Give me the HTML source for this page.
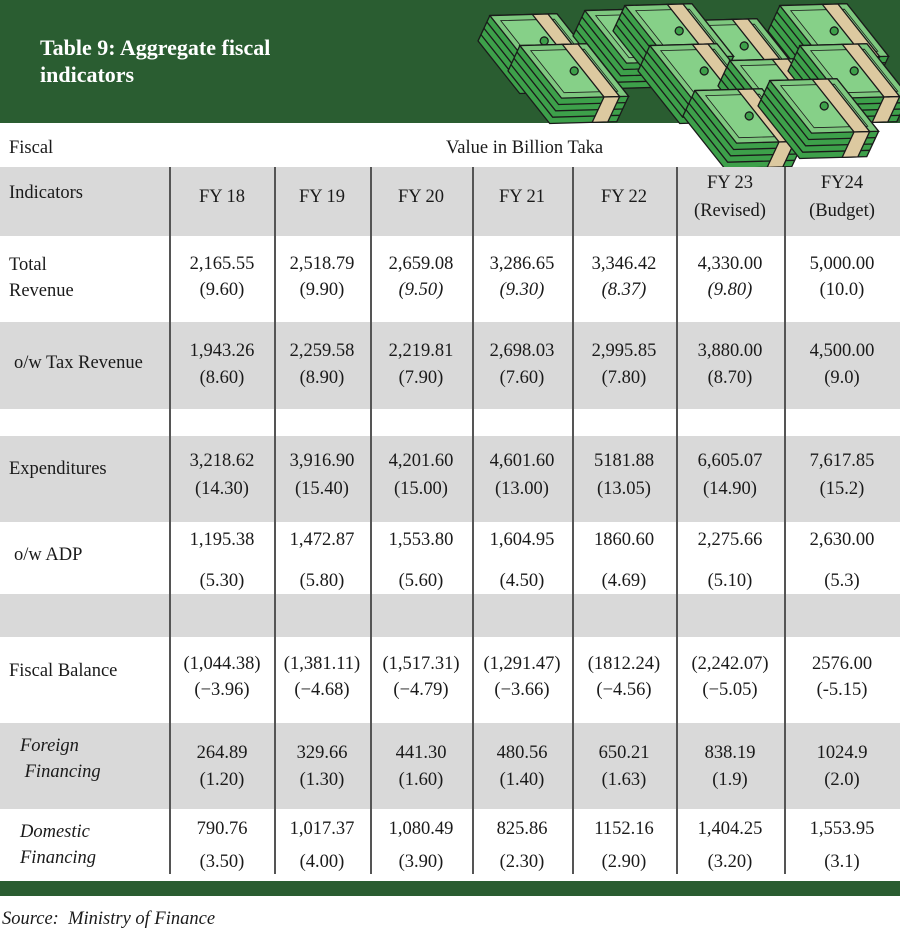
<!DOCTYPE html>
<html><head><meta charset="utf-8"><style>
body{margin:0;width:900px;height:931px;position:relative;background:#fff;font-family:"Liberation Serif",serif;color:#1a1a1a;overflow:hidden}
.a{position:absolute}
.t{position:absolute;font-size:18.5px;line-height:22px;white-space:nowrap}
.c{transform:translateX(-50%)}
.g{background:#d9d9d9}
.v{position:absolute;top:167px;height:707px;width:1.5px;background:#555}
i{font-style:italic}
</style></head><body>
<div class="a" style="left:0;top:0;width:900px;height:123px;background:#2a5d31"></div>
<div class="a" style="left:40px;top:34px;color:#fff;font-weight:bold;font-size:22px;line-height:27px">Table 9: Aggregate fiscal<br>indicators</div>
<svg class="a" style="left:470px;top:0" width="430" height="175" viewBox="0 0 430 175">
<defs>
<g id="b" stroke="#1a1a1a" stroke-width="1.3" transform="rotate(25 60 40)">
<polygon points="0,30 60,0 120,30 120,58 60,88 0,58" fill="#3da04a"/>
<path d="M0,37 L60,67 L120,37 M0,44 L60,74 L120,44 M0,51 L60,81 L120,51" fill="none"/>
<polygon points="0,30 60,0 120,30 60,60" fill="#7ec87f"/>
<polygon points="12,30 60,6 108,30 60,54" fill="#86d088" stroke-width="0.8"/>
<polygon points="38,11 52,4 112,34 98,41" fill="#dcc9a0"/>
<polygon points="98,41 112,34 112,62 98,69" fill="#dcc9a0"/>
<circle cx="60" cy="30" r="4" fill="#3da04a"/>
</g>
</defs>
<use href="#b" x="10" y="10"/>
<use href="#b" x="105" y="5"/>
<use href="#b" x="210" y="15"/>
<use href="#b" x="300" y="0"/>
<use href="#b" x="40" y="40"/>
<use href="#b" x="145" y="0"/>
<use href="#b" x="170" y="40"/>
<use href="#b" x="250" y="55"/>
<use href="#b" x="320" y="40"/>
<use href="#b" x="215" y="85"/>
<use href="#b" x="290" y="75"/>
</svg>
<div class="t" style="left:9px;top:137px">Fiscal</div>
<div class="t" style="left:446px;top:137px">Value in Billion Taka</div>
<div class="a g" style="left:0;top:167px;width:900px;height:69px"></div>
<div class="a g" style="left:0;top:322px;width:900px;height:87px"></div>
<div class="a g" style="left:0;top:436px;width:900px;height:86px"></div>
<div class="a g" style="left:0;top:594px;width:900px;height:43px"></div>
<div class="a g" style="left:0;top:723px;width:900px;height:86px"></div>
<div class="a" style="left:0;top:881px;width:900px;height:15px;background:#2a5d31"></div>
<div class="v" style="left:169px"></div><div class="v" style="left:274px"></div><div class="v" style="left:370px"></div><div class="v" style="left:472px"></div><div class="v" style="left:572px"></div><div class="v" style="left:676px"></div><div class="v" style="left:784px"></div>
<div class="t" style="left:9px;top:182px">Indicators</div>
<div class="t" style="left:9px;top:252px;line-height:26px">Total<br>Revenue</div>
<div class="t" style="left:14px;top:352px">o/w Tax Revenue</div>
<div class="t" style="left:9px;top:458px">Expenditures</div>
<div class="t" style="left:14px;top:544px">o/w ADP</div>
<div class="t" style="left:9px;top:660px">Fiscal Balance</div>
<div class="t" style="left:20px;top:733px;line-height:26px"><i>Foreign</i><br><i>&nbsp;Financing</i></div>
<div class="t" style="left:20px;top:819px;line-height:26px"><i>Domestic</i><br><i>Financing</i></div>
<div id="cells"></div>
<div class="t" style="left:2px;top:908px;font-style:italic">Source:&nbsp; Ministry of Finance</div>
<script>
var xs=[222,322,421,522,624,730,842];
var rows=[
[[186],["FY 18","FY 19","FY 20","FY 21","FY 22","FY 23\n(Revised)","FY24\n(Budget)"]],
[[253,279],["2,165.55\n(9.60)","2,518.79\n(9.90)","2,659.08\n<i>(9.50)</i>","3,286.65\n<i>(9.30)</i>","3,346.42\n<i>(8.37)</i>","4,330.00\n<i>(9.80)</i>","5,000.00\n(10.0)"]],
[[340,367],["1,943.26\n(8.60)","2,259.58\n(8.90)","2,219.81\n(7.90)","2,698.03\n(7.60)","2,995.85\n(7.80)","3,880.00\n(8.70)","4,500.00\n(9.0)"]],
[[450,478],["3,218.62\n(14.30)","3,916.90\n(15.40)","4,201.60\n(15.00)","4,601.60\n(13.00)","5181.88\n(13.05)","6,605.07\n(14.90)","7,617.85\n(15.2)"]],
[[529,570],["1,195.38\n(5.30)","1,472.87\n(5.80)","1,553.80\n(5.60)","1,604.95\n(4.50)","1860.60\n(4.69)","2,275.66\n(5.10)","2,630.00\n(5.3)"]],
[[653,679],["(1,044.38)\n(\u22123.96)","(1,381.11)\n(\u22124.68)","(1,517.31)\n(\u22124.79)","(1,291.47)\n(\u22123.66)","(1812.24)\n(\u22124.56)","(2,242.07)\n(\u22125.05)","2576.00\n(-5.15)"]],
[[742,769],["264.89\n(1.20)","329.66\n(1.30)","441.30\n(1.60)","480.56\n(1.40)","650.21\n(1.63)","838.19\n(1.9)","1024.9\n(2.0)"]],
[[818,851],["790.76\n(3.50)","1,017.37\n(4.00)","1,080.49\n(3.90)","825.86\n(2.30)","1152.16\n(2.90)","1,404.25\n(3.20)","1,553.95\n(3.1)"]]
];
var h="";
rows.forEach(function(r){r[1].forEach(function(s,i){var p=s.split("\n");
 var tops=r[0].length==1?(p.length==1?[r[0][0]]:[r[0][0]-14,r[0][0]+14]):r[0];
 p.forEach(function(l,k){h+='<div class="t c" style="left:'+xs[i]+'px;top:'+tops[k]+'px">'+l+'</div>';});});});
document.getElementById("cells").innerHTML=h;
</script>
</body></html>
